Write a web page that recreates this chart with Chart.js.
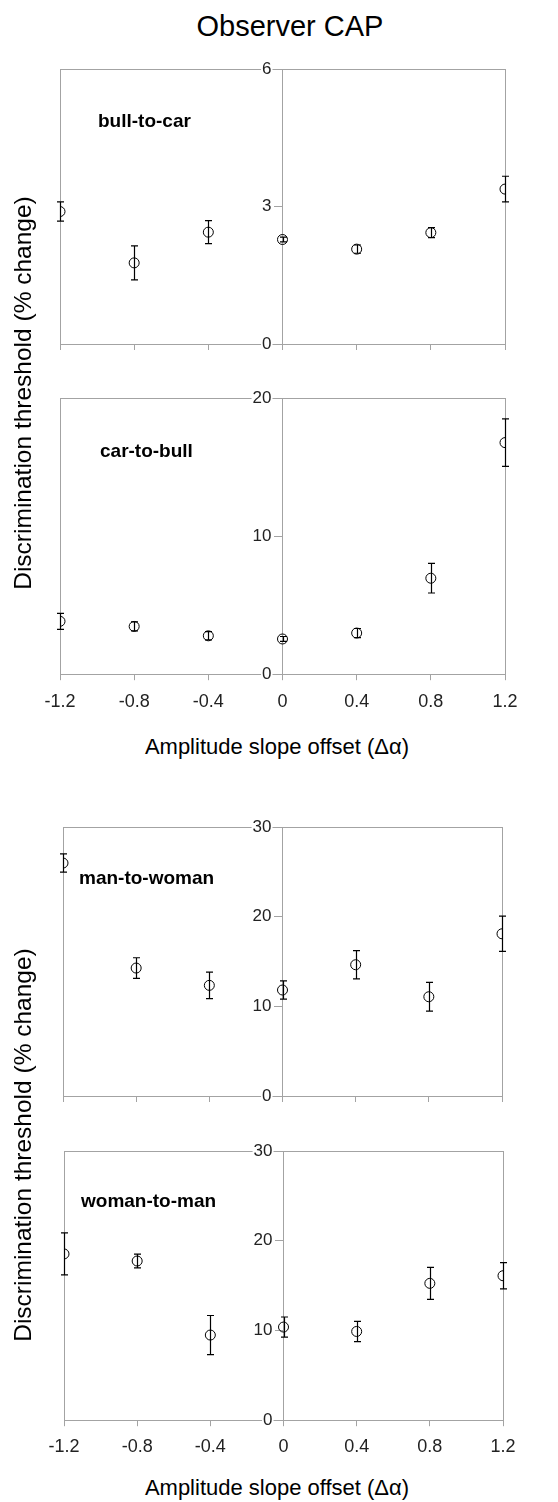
<!DOCTYPE html>
<html>
<head>
<meta charset="utf-8">
<title>Observer CAP</title>
<script src="https://cdn.jsdelivr.net/npm/chart.js@4.4.1/dist/chart.umd.min.js"></script>
<style>
  body { margin: 0; background: #fff; }
  #page { position: relative; width: 558px; height: 1502px; overflow: hidden; font-family: "Liberation Sans", Arial, sans-serif; }
  #page canvas { position: absolute; left: 0; }
  .txt { position: absolute; white-space: nowrap; color: #000; line-height: 1; }
  .title { font-size: 29px; left: 290px; top: 26px; transform: translate(-50%, -50%); }
  .ytitle { font-size: 24.5px; transform: translate(-50%, -50%) rotate(-90deg); }
  .xtitle { font-size: 22px; transform: translate(-50%, -50%); }
  .tag { font-size: 19px; font-weight: bold; transform: translateY(-50%); }
</style>
</head>
<body>
<div id="page">
  <div class="txt title">Observer CAP</div>

  <canvas id="bullCar"></canvas>
  <canvas id="carBull"></canvas>
  <canvas id="manWoman"></canvas>
  <canvas id="womanMan"></canvas>

  <div class="txt tag" style="left:98px; top:120px;">bull-to-car</div>
  <div class="txt tag" style="left:100px; top:450px;">car-to-bull</div>
  <div class="txt tag" style="left:79px; top:877px;">man-to-woman</div>
  <div class="txt tag" style="left:81px; top:1200px;">woman-to-man</div>

  <div class="txt ytitle" style="left:23px; top:393px;">Discrimination threshold (% change)</div>
  <div class="txt ytitle" style="left:23px; top:1145px;">Discrimination threshold (% change)</div>

  <div class="txt xtitle" style="left:277px; top:747px;">Amplitude slope offset (&Delta;&alpha;)</div>
  <div class="txt xtitle" style="left:277px; top:1488px;">Amplitude slope offset (&Delta;&alpha;)</div>
</div>

<script>
// amplitude slope offsets (x values, also the x tick positions)
const offsets = [-1.2, -0.8, -0.4, 0, 0.4, 0.8, 1.2];

// thresholds (% change) and error bar half-lengths per morph direction
const bullToCar    = [2.89, 1.77, 2.44, 2.28, 2.07, 2.43, 3.38];
const bullToCarErr = [0.21, 0.37, 0.25, 0.05, 0.09, 0.11, 0.28];

const carToBull    = [3.83, 3.46, 2.78, 2.55, 2.98, 6.95, 16.77];
const carToBullErr = [0.58, 0.33, 0.30, 0.18, 0.33, 1.07, 1.72];

const manToWoman    = [25.98, 14.27, 12.34, 11.82, 14.64, 11.07, 18.09];
const manToWomanErr = [1.02, 1.15, 1.47, 1.02, 1.58, 1.60, 1.97];

const womanToMan    = [18.53, 17.74, 9.49, 10.38, 9.89, 15.25, 16.10];
const womanToManErr = [2.34, 0.76, 2.18, 1.12, 1.13, 1.79, 1.47];

// y tick values for each panel
const yTicksBullCar = [0, 3, 6];
const yTicksCarBull = [0, 10, 20];
const yTicksFaces   = [0, 10, 20, 30];

const FONT = '"Liberation Sans", Arial, sans-serif';
const AXIS_GRAY = '#a3a3a3';
const TICK_TEXT = '#222';
const LABEL_GAP = 11;   // px between the y labels and the centre axis

// light grey box around the plotting area
const plotFrame = {
    id: 'plotFrame',
    beforeDraw(chart) {
        const { ctx, chartArea: a } = chart;
        const l = Math.round(a.left) + 0.5, r = Math.round(a.right) + 0.5;
        const t = Math.round(a.top) + 0.5, b = Math.round(a.bottom) + 0.5;
        ctx.save();
        ctx.strokeStyle = AXIS_GRAY;
        ctx.lineWidth = 1;
        ctx.strokeRect(l, t, r - l, b - t);
        ctx.restore();
    }
};

// vertical error bars with small caps
const errorBars = {
    id: 'errorBars',
    afterDatasetsDraw(chart, args, opts) {
        const errs = opts.errors;
        if (!errs) return;
        const { ctx, scales: { x, y } } = chart;
        const data = chart.data.datasets[0].data;
        ctx.save();
        ctx.strokeStyle = '#000';
        ctx.lineWidth = 1.2;
        data.forEach((pt, i) => {
            const px = Math.round(x.getPixelForValue(pt.x)) + 0.5;
            const top = y.getPixelForValue(pt.y + errs[i]);
            const bot = y.getPixelForValue(pt.y - errs[i]);
            ctx.beginPath();
            ctx.moveTo(px, top); ctx.lineTo(px, bot);
            ctx.moveTo(px - 3.5, top); ctx.lineTo(px + 3.5, top);
            ctx.moveTo(px - 3.5, bot); ctx.lineTo(px + 3.5, bot);
            ctx.stroke();
        });
        ctx.restore();
    }
};

function fmtOffset(v) {
    const r = Math.round(v * 10) / 10;
    return r === 0 ? '0' : String(r);
}

function makePanel(id, box, values, errors, yTicks, xLabelGap) {
    const canvas = document.getElementById(id);
    const padTop = 18, padBottom = 16, tickLen = 6;
    const showX = xLabelGap > 0;
    const labelLine = 18 * 1.2;
    const xPad = showX ? xLabelGap - tickLen - labelLine / 2 : 0;
    const axisH = tickLen + (showX ? xPad + labelLine : 0);

    canvas.width = 558;
    canvas.height = Math.round(padTop + (box.bottom - box.top) + axisH + padBottom);
    canvas.style.top = (box.top - padTop) + 'px';

    // the tick labels sit on a second axis pinned just left of x = 0
    const xSpan = offsets[offsets.length - 1] - offsets[0];
    const labelAt = -LABEL_GAP * xSpan / (box.right - box.left);

    const yRange = {
        type: 'linear',
        min: yTicks[0],
        max: yTicks[yTicks.length - 1],
        afterBuildTicks: axis => { axis.ticks = yTicks.map(v => ({ value: v })); }
    };

    return new Chart(canvas, {
        type: 'scatter',
        data: {
            datasets: [{
                data: offsets.map((x, i) => ({ x: x, y: values[i] })),
                showLine: false,
                pointStyle: 'circle',
                pointRadius: 5,
                pointHoverRadius: 5,
                pointBorderWidth: 1,
                borderColor: '#000',
                backgroundColor: 'rgba(0,0,0,0)'
            }]
        },
        options: {
            responsive: false,
            animation: false,
            devicePixelRatio: 1,
            layout: {
                padding: { left: box.left, right: 558 - box.right, top: padTop, bottom: padBottom }
            },
            plugins: {
                legend: { display: false },
                tooltip: { enabled: false },
                errorBars: { errors: errors }
            },
            scales: {
                x: {
                    type: 'linear',
                    min: offsets[0],
                    max: offsets[offsets.length - 1],
                    afterBuildTicks: axis => { axis.ticks = offsets.map(v => ({ value: v })); },
                    afterFit: axis => { axis.height = axisH; },
                    grid: { drawOnChartArea: false, tickLength: tickLen, color: AXIS_GRAY },
                    border: { color: AXIS_GRAY },
                    ticks: {
                        display: showX,
                        padding: xPad,
                        color: TICK_TEXT,
                        font: { family: FONT, size: 18 },
                        maxRotation: 0,
                        autoSkip: false,
                        callback: v => fmtOffset(v)
                    }
                },
                y: {
                    ...yRange,
                    position: { x: 0 },
                    grid: { drawOnChartArea: false, tickLength: 8, color: AXIS_GRAY },
                    border: { color: AXIS_GRAY },
                    ticks: { display: false }
                },
                yLabels: {
                    ...yRange,
                    position: { x: labelAt },
                    grid: { display: false },
                    border: { display: false },
                    ticks: {
                        color: TICK_TEXT,
                        padding: 0,
                        font: { family: FONT, size: 17 },
                        showLabelBackdrop: true,
                        backdropColor: '#fff',
                        backdropPadding: 1
                    }
                }
            }
        },
        plugins: [plotFrame, errorBars]
    });
}

makePanel('bullCar',  { left: 60, right: 505, top: 69,   bottom: 344 },  bullToCar,  bullToCarErr,  yTicksBullCar, 0);
makePanel('carBull',  { left: 60, right: 505, top: 398,  bottom: 674 },  carToBull,  carToBullErr,  yTicksCarBull, 28);
makePanel('manWoman', { left: 63, right: 502, top: 827,  bottom: 1096 }, manToWoman, manToWomanErr, yTicksFaces,   0);
makePanel('womanMan', { left: 64, right: 503, top: 1151, bottom: 1420 }, womanToMan, womanToManErr, yTicksFaces,   27);
</script>
</body>
</html>
